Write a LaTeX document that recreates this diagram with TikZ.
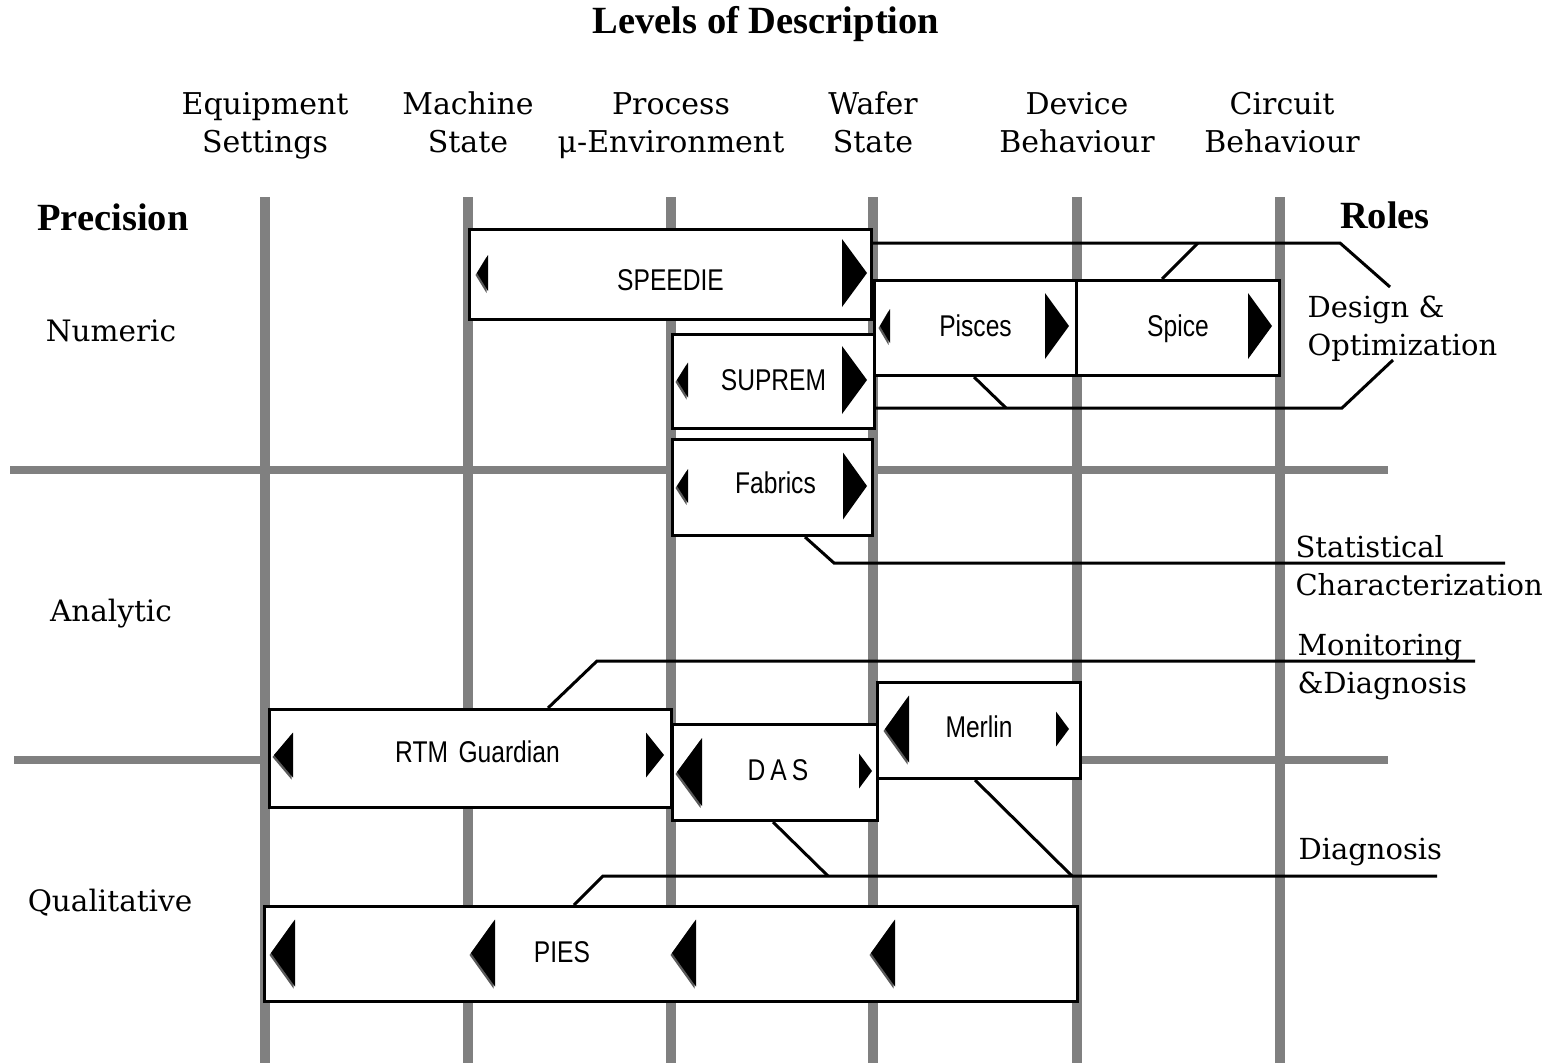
\documentclass[tikz,border=0pt]{standalone}
\usepackage{fontspec}
\setmainfont{DejaVu Serif}
\newfontfamily\headfont{Liberation Serif}
\newfontfamily\boxfont[FakeStretch=0.82]{Liberation Sans}
\usetikzlibrary{positioning}
\definecolor{GridGray}{HTML}{808080}
\definecolor{TipShade}{HTML}{5A5A5A}

% tip x, tip y, width, height
\newcommand{\lefttip}[4]{%
  \fill[TipShade] (#1-1.5,#2+2) -- ++(#3,-#4/2) -- ++(0,#4) -- cycle;
  \fill (#1,#2) -- ++(#3,-#4/2) -- ++(0,#4) -- cycle;}
\newcommand{\righttip}[4]{%
  \fill (#1,#2) -- ++(-#3,-#4/2) -- ++(0,#4) -- cycle;}

\begin{document}
\begin{tikzpicture}[
  x=1pt, y=-1pt,
  gridline/.style={GridGray, line width=10pt},
  gridrow/.style={GridGray, line width=8pt},
  toolbox/.style={draw, line width=3pt, fill=white, inner sep=0pt, anchor=north west,
    text height=22pt, text depth=5pt, font=\boxfont\fontsize{30}{30}\selectfont},
  roleline/.style={line width=3pt},
  colhead/.style={align=center, font=\fontsize{30}{38}\selectfont},
  rowhead/.style={font=\fontsize{29.5}{38}\selectfont},
  rolehead/.style={align=left, anchor=west, font=\fontsize{29}{38}\selectfont},
  axishead/.style={font=\headfont\bfseries\fontsize{38.5}{38}\selectfont}
]
  \useasboundingbox (0,0) rectangle (1549,1063);

  \node[axishead] (title) at (766,24) {Levels of Description};
  \node[colhead] (equip) at (265,126) {\strut Equipment\\\strut Settings};
  \node[colhead] (mach) at (468,126) {\strut Machine\\\strut State};
  \node[colhead] (proc) at (671,126) {\strut Process\\\strut μ-Environment};
  \node[colhead] (wafer) at (873,126) {\strut Wafer\\\strut State};
  \node[colhead] (dev) at (1077,126) {\strut Device\\\strut Behaviour};
  \node[colhead] (circ) at (1282,126) {\strut Circuit\\\strut Behaviour};

  \node[axishead] (prec) at (113,217) {Precision};
  \node[axishead] (roles) at (1385,215) {Roles};
  \node[rowhead] (num) at (111,331) {Numeric};
  \node[rowhead] (ana) at (111,614) {Analytic};
  \node[rowhead] (qual) at (110,903) {Qualitative};

  \foreach \gx in {265,468,671,873,1077,1280}
    \draw[gridline] (\gx,197) -- (\gx,1063);
  \draw[gridrow] (10,470) -- (1388,470);
  \draw[gridrow] (14,760) -- (1388,760);

  \coordinate (dsgn-a) at (1340,243);
  \coordinate (dsgn-tt) at (1390,287);
  \coordinate (dsgn-b) at (1342,408);
  \coordinate (dsgn-tb) at (1393,360);
  \coordinate (dsgn-j1) at (1198,243);
  \coordinate (dsgn-j2) at (1006,408);
  \coordinate (stat-k) at (834,563);
  \coordinate (stat-e) at (1505,563);
  \coordinate (mon-k) at (597,661);
  \coordinate (mon-e) at (1475,661);
  \coordinate (diag-k) at (603,876);
  \coordinate (diag-e) at (1437,876);
  \coordinate (diag-j1) at (828,876);
  \coordinate (diag-j2) at (1072,876);

  \node[toolbox, minimum width=402, minimum height=90, text height=31pt, text depth=0pt] (speedie) at (468,228) {SPEEDIE};
  \node[toolbox, minimum width=202, minimum height=94] (suprem) at (671,333) {SUPREM};
  \node[toolbox, minimum width=200, minimum height=96, text depth=10pt] (fabrics) at (671,438) {\hspace*{6pt}Fabrics};
  \node[toolbox, minimum width=202, minimum height=95] (pisces) at (873,279) {Pisces};
  \node[toolbox, minimum width=203, minimum height=95] (spice) at (1075,279) {Spice};
  \node[toolbox, minimum width=402, minimum height=98, text depth=14pt] (rtm) at (268,708) {\hspace*{14pt}RTM\hspace{0.35em}Guardian};
  \node[toolbox, minimum width=205, minimum height=96, text depth=6pt] (das) at (671,723) {\hspace*{6pt}D\,A\,S};
  \node[toolbox, minimum width=203, minimum height=96, text depth=8pt] (merlin) at (876,681) {Merlin};
  \node[toolbox, minimum width=813, minimum height=95] (pies) at (263,905) {};
  \node[font=\boxfont\fontsize{30}{30}\selectfont] (pies-lbl) at (562,952) {PIES};

  \draw[roleline] (speedie.east |- dsgn-a) -- (dsgn-a) -- (dsgn-tt);
  \draw[roleline] (suprem.east |- dsgn-b) -- (dsgn-b) -- (dsgn-tb);
  \draw[roleline] ([xshift=87pt]spice.north west) -- (dsgn-j1);
  \draw[roleline] ([xshift=101pt]pisces.south west) -- (dsgn-j2);
  \draw[roleline] ([xshift=134pt]fabrics.south west) -- (stat-k) -- (stat-e);
  \draw[roleline] ([xshift=280pt]rtm.north west) -- (mon-k) -- (mon-e);
  \draw[roleline] ([xshift=311pt]pies.north west) -- (diag-k) -- (diag-e);
  \draw[roleline] ([xshift=102pt]das.south west) -- (diag-j1);
  \draw[roleline] ([xshift=99pt]merlin.south west) -- (diag-j2);

  \node[rolehead] (r-dsgn) at (1304,329) {Design \&\\Optimization};
  \node[rolehead] (r-stat) at (1292,566) {Statistical\\Characterization};
  \node[rolehead] (r-mon) at (1294,667) {Monitoring\\\&Diagnosis};
  \node[rolehead] (r-diag) at (1295,852) {Diagnosis};

  \lefttip{477}{273}{11}{36} \righttip{867}{273}{25}{68}
  \lefttip{677}{380}{11}{35} \righttip{867}{380}{25}{68}
  \lefttip{677}{486}{11}{34} \righttip{867}{486}{24}{67}
  \lefttip{880}{326}{10}{34} \righttip{1069}{326}{24}{66}
  \righttip{1272}{326}{24}{66}
  \lefttip{274}{755}{19}{45} \righttip{664}{755}{18}{45}
  \lefttip{677}{772}{25}{68} \righttip{872}{771}{13}{35}
  \lefttip{885}{729}{24}{67} \righttip{1069}{729}{13}{35}
  \foreach \tx in {271,471,672,871}
    {\lefttip{\tx}{953}{24}{67}}
\end{tikzpicture}
\end{document}
